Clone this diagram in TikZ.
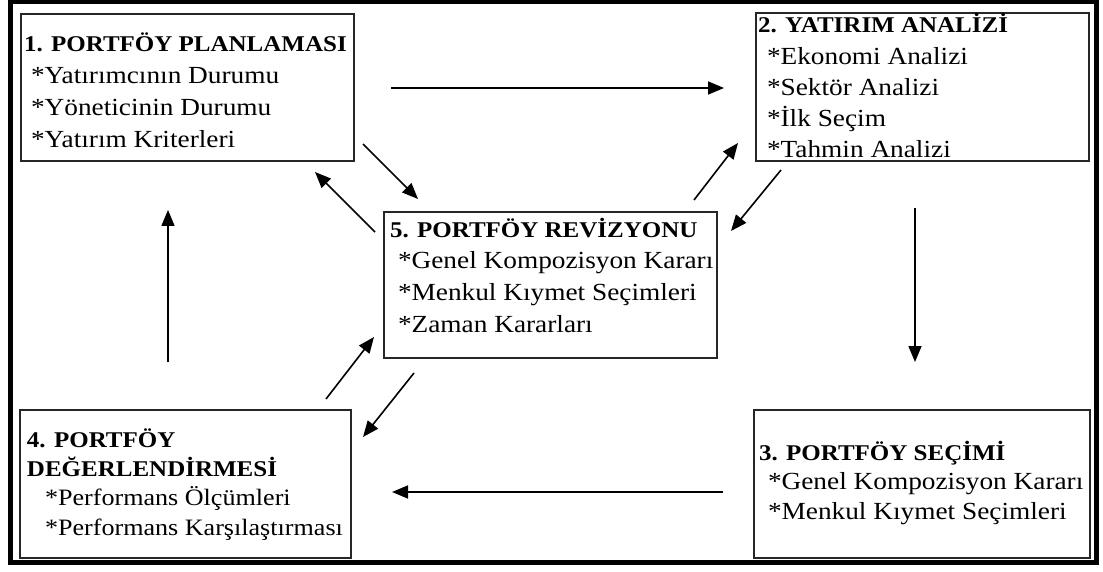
\documentclass[tikz,border=0pt]{standalone}
\usepackage{fontspec}
\setmainfont{Liberation Serif}
\usetikzlibrary{arrows.meta}

\tikzset{
  box/.style={draw=black!85, line width=1.3pt, inner sep=0pt, outer sep=0pt},
  flow/.style={line width=1.6pt, -{Triangle[length=16pt,width=13pt]}},
  txt/.style={anchor=base west, inner sep=0pt, outer sep=0pt},
  frame/.style={line width=5pt},
}

% [#1]: text size, #2: line pitch, #3: rows of the block
% (the first row's baseline is the node's base)
\newcommand\blocktext[3][27.3]{%
  \scalebox{1}[0.9]{\fontsize{#1}{#2}\selectfont
    \begin{tabular}[t]{@{}l@{}}#3\end{tabular}}}
\newcommand\heading[1]{{\fontsize{25}{30}\selectfont\bfseries #1}}

\begin{document}
\begin{tikzpicture}[x=1pt, y=-1pt]
  \useasboundingbox (0,0) rectangle (1103,572);
  \draw[frame] (10,1.5) rectangle (1096,562.5);

  % the five stages
  \node[box, minimum width=333pt, minimum height=147pt] (p1) at (187.5,87.5) {};
  \node[box, minimum width=333pt, minimum height=148pt] (p2) at (922.5,87) {};
  \node[box, minimum width=336pt, minimum height=148pt] (p3) at (922,484) {};
  \node[box, minimum width=331pt, minimum height=148pt] (p4) at (185.5,484) {};
  \node[box, minimum width=333pt, minimum height=146pt] (p5) at (550.5,285) {};

  % their contents (pitch = spacing on the page / 0.9)
  \node[txt] (t1) at (24,52) {\blocktext{35.5pt}{%
    \heading{1. PORTFÖY PLANLAMASI}\\
    \hspace*{7pt}*Yatırımcının Durumu\\
    \hspace*{7pt}*Yöneticinin Durumu\\
    \hspace*{7pt}*Yatırım Kriterleri}};
  \node[txt] (t2) at (758,33) {\blocktext{34.7pt}{%
    \heading{2. YATIRIM ANALİZİ}\\
    \hspace*{9pt}*Ekonomi Analizi\\
    \hspace*{9pt}*Sektör Analizi\\
    \hspace*{9pt}*İlk Seçim\\
    \hspace*{9pt}*Tahmin Analizi}};
  \node[txt] (t3) at (759,460) {\blocktext{33.3pt}{%
    \heading{3. PORTFÖY SEÇİMİ}\\
    \hspace*{9pt}*Genel Kompozisyon Kararı\\
    \hspace*{9pt}*Menkul Kıymet Seçimleri}};
  \node[txt] (t4) at (27,447) {\blocktext[26.1]{32.6pt}{%
    \heading{4. PORTFÖY}\\
    \heading{DEĞERLENDİRMESİ}\\
    \hspace*{18pt}*Performans Ölçümleri\\
    \hspace*{18pt}*Performans Karşılaştırması}};
  \node[txt] (t5) at (390,237) {\blocktext{35.2pt}{%
    \heading{5. PORTFÖY REVİZYONU}\\
    \hspace*{8pt}*Genel Kompozisyon Kararı\\
    \hspace*{8pt}*Menkul Kıymet Seçimleri\\
    \hspace*{8pt}*Zaman Kararları}};

  % main cycle
  \draw[flow] ([shift={(37,0.5)}]p1.east) -- ([shift={(-32,1)}]p2.west);
  \draw[flow] ([shift={(-7.5,47)}]p2.south) -- ([shift={(-7,-48)}]p3.north);
  \draw[flow] ([shift={(-31,8)}]p3.west) -- ([shift={(41,8)}]p4.east);
  \draw[flow] ([shift={(-17.5,-48)}]p4.north) -- ([shift={(-19.5,49)}]p1.south);

  % links with the revision stage
  \draw[flow] ([shift={(9,-17)}]p1.south east) -- ([shift={(34,-13)}]p5.north west);
  \draw[flow] ([shift={(-9,20)}]p5.north west) -- ([shift={(-39,11)}]p1.south east);
  \draw[flow] ([shift={(-23,-12)}]p5.north east) -- ([shift={(-18,-18)}]p2.south west);
  \draw[flow] ([shift={(25,9)}]p2.south west) -- ([shift={(14,19)}]p5.north east);
  \draw[flow] ([shift={(-25,-11)}]p4.north east) -- ([shift={(-10,-21)}]p5.south west);
  \draw[flow] ([shift={(30,15)}]p5.south west) -- ([shift={(12,27)}]p4.north east);
\end{tikzpicture}
\end{document}
